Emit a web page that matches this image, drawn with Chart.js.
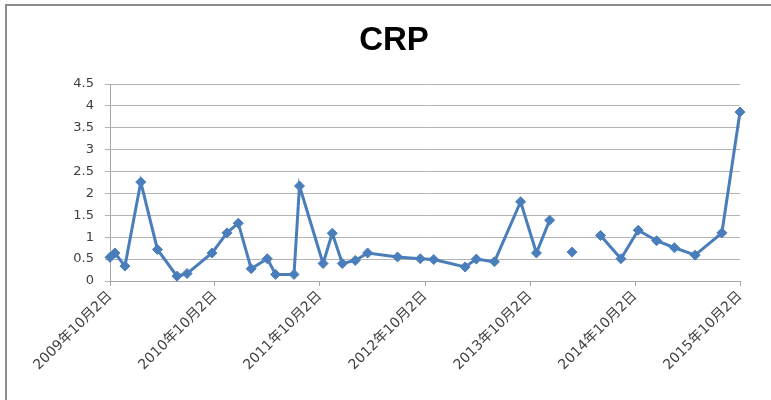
<!DOCTYPE html>
<html>
<head>
<meta charset="utf-8">
<script src="https://cdn.jsdelivr.net/npm/chart.js@4"></script>
<style>
html,body{margin:0;padding:0;background:#fff;overflow:hidden;}
#wrap{width:771px;height:400px;position:relative;}
</style>
</head>
<body>
<div id="wrap"><canvas id="c" width="771" height="400"></canvas></div>
<script>
const titleText = "CRP";
const dates = [
  "2009-10-02","2009-10-19","2009-11-23","2010-01-17","2010-03-16","2010-05-23","2010-06-27",
  "2010-09-22","2010-11-13","2010-12-22","2011-02-05","2011-04-02","2011-05-01","2011-07-04",
  "2011-07-23","2011-10-13","2011-11-14","2011-12-19","2012-02-02","2012-03-16","2012-06-28",
  "2012-09-15","2012-11-01","2013-02-18","2013-03-29","2013-05-31","2013-08-30","2013-10-24",
  "2013-12-09","2014-01-15","2014-02-25","2014-04-15","2014-06-04","2014-08-14","2014-10-13",
  "2014-12-16","2015-02-16","2015-04-29","2015-07-31","2015-10-02"
];
const crp = [
  0.54,0.64,0.34,2.26,0.72,0.11,0.17,
  0.64,1.10,1.32,0.28,0.51,0.15,0.15,
  2.17,0.40,1.09,0.40,0.47,0.64,0.55,
  0.51,0.49,0.32,0.50,0.44,1.81,0.64,
  1.39,null,0.66,null,1.04,0.51,1.16,
  0.92,0.76,0.59,1.10,3.86
];
const tickDates = ["2009-10-02","2010-10-02","2011-10-02","2012-10-02","2013-10-02","2014-10-02","2015-10-02"];
const tickLabels = ["2009年10月2日","2010年10月2日","2011年10月2日","2012年10月2日","2013年10月2日","2014年10月2日","2015年10月2日"];
const yTicks = [0,0.5,1,1.5,2,2.5,3,3.5,4,4.5];

const day = d => Date.parse(d + "T00:00:00Z") / 86400000;
const points = dates.map((d, i) => ({x: day(d), y: crp[i]}));

const frame = {
  id: 'frame',
  beforeDraw(chart) {
    const ctx = chart.ctx;
    ctx.save();
    ctx.fillStyle = '#fff';
    ctx.fillRect(0, 0, chart.width, chart.height);
    ctx.strokeStyle = '#8c8c8c';
    ctx.lineWidth = 2;
    ctx.beginPath();
    ctx.moveTo(6, 400);
    ctx.lineTo(6, 5);
    ctx.lineTo(771, 5);
    ctx.stroke();
    ctx.restore();
  },
  afterDraw(chart) {
    const ctx = chart.ctx;
    ctx.save();
    ctx.fillStyle = '#000';
    ctx.font = 'bold 33px "Liberation Sans"';
    ctx.textAlign = 'center';
    ctx.textBaseline = 'middle';
    ctx.fillText(titleText, 394, 41);
    ctx.restore();
  }
};

new Chart(document.getElementById('c'), {
  type: 'line',
  data: {
    datasets: [{
      data: points,
      borderColor: '#4a7ebb',
      backgroundColor: '#4a7ebb',
      borderWidth: 3,
      pointStyle: 'rectRot',
      pointRadius: 5,
      pointBorderWidth: 1,
      pointBorderColor: '#4a7ebb',
      pointBackgroundColor: '#4a7ebb',
      tension: 0,
      spanGaps: false,
      clip: false
    }]
  },
  options: {
    responsive: false,
    animation: false,
    layout: {padding: {left: 0, right: 31, top: 84, bottom: 0}},
    plugins: {
      legend: {display: false},
      tooltip: {enabled: false},
      title: {display: false}
    },
    scales: {
      x: {
        type: 'linear',
        min: day(tickDates[0]),
        max: day(tickDates[tickDates.length - 1]),
        afterBuildTicks: s => { s.ticks = tickDates.map(d => ({value: day(d)})); },
        afterFit: s => { s.height = 119; },
        grid: {drawOnChartArea: false, drawTicks: true, tickLength: 5, color: '#a6a6a6'},
        border: {display: true, color: '#a6a6a6', width: 1},
        ticks: {
          autoSkip: false,
          maxRotation: 45,
          minRotation: 45,
          padding: 2,
          color: '#404040',
          font: {family: '"DejaVu Sans", "Noto Sans CJK SC"', size: 14},
          callback: (v, i) => tickLabels[i]
        }
      },
      y: {
        min: 0,
        max: 4.5,
        afterBuildTicks: s => { s.ticks = yTicks.map(v => ({value: v})); },
        afterFit: s => { s.width = 110; },
        grid: {color: '#b3b3b3', tickLength: 5, lineWidth: 1},
        border: {display: true, color: '#a6a6a6'},
        ticks: {
          padding: 11,
          color: '#404040',
          font: {family: '"DejaVu Sans"', size: 13},
          callback: v => String(v)
        }
      }
    }
  },
  plugins: [frame]
});
</script>
</body>
</html>
